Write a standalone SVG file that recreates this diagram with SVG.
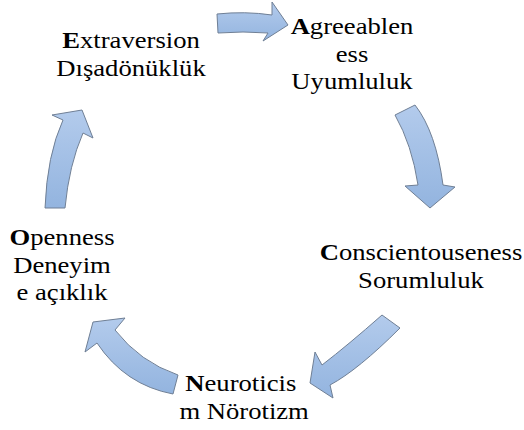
<svg xmlns="http://www.w3.org/2000/svg" width="524" height="430" viewBox="0 0 524 430">
  <style>
    text { font-family: 'Liberation Serif', Tinos, 'Times New Roman', serif; font-size: 24px; fill: #000; text-anchor: middle; }
    .b { font-weight: bold; }
    .arr { fill: url(#g); stroke: #6f7f95; stroke-width: 1; stroke-linejoin: miter; }
  </style>
  <defs>
    <linearGradient id="g" x1="0" y1="0" x2="0" y2="1">
      <stop offset="0" stop-color="#b3cbec"/>
      <stop offset="1" stop-color="#93b4df"/>
    </linearGradient>
  </defs>
  <rect width="524" height="430" fill="#ffffff"/>

  <g id="connectors">
    <path class="arr" d="M217,14 Q245,11 272,15 L272,2 L288,25 L263,41 L268,33 Q243,31 218,33 Z"/>
    <path class="arr" d="M395,115 Q412,145 418,185 L405,186 L430,208 L455,187 L443,185 Q436,132 415,105 Z"/>
    <path class="arr" d="M382,315 Q348,345 322,365 L315,352 L310,383 L333,398 L330,385 Q358,370 400,328 Z"/>
    <path class="arr" d="M178,375 Q140,362 115,330 L125,318 L93,322 L85,352 L97,343 Q125,385 173,394 Z"/>
    <path class="arr" d="M45,208 Q47,155 63,120 L52,115 L82,110 L93,138 L83,133 Q69,165 65,208 Z"/>
  </g>

  <g id="node-extraversion" transform="translate(131,0) scale(1.11,1)">
    <text x="0" y="48"><tspan class="b">E</tspan>xtraversion</text>
    <text x="0" y="76">Dışadönüklük</text>
  </g>
  <g id="node-agreeableness" transform="translate(352,0) scale(1.11,1)">
    <text x="0" y="34"><tspan class="b">A</tspan>greeablen</text>
    <text x="0" y="62">ess</text>
    <text x="0" y="89">Uyumluluk</text>
  </g>
  <g id="node-conscientiousness" transform="translate(421,0) scale(1.11,1)">
    <text x="0" y="260"><tspan class="b">C</tspan>onscientouseness</text>
    <text x="0" y="288">Sorumluluk</text>
  </g>
  <g id="node-neuroticism" transform="translate(243,0) scale(1.11,1)">
    <text x="-2" y="391"><tspan class="b">N</tspan>euroticis</text>
    <text x="1" y="419">m Nörotizm</text>
  </g>
  <g id="node-openness" transform="translate(62,0) scale(1.11,1)">
    <text x="0" y="245"><tspan class="b">O</tspan>penness</text>
    <text x="0" y="273">Deneyim</text>
    <text x="0" y="300">e açıklık</text>
  </g>
</svg>
